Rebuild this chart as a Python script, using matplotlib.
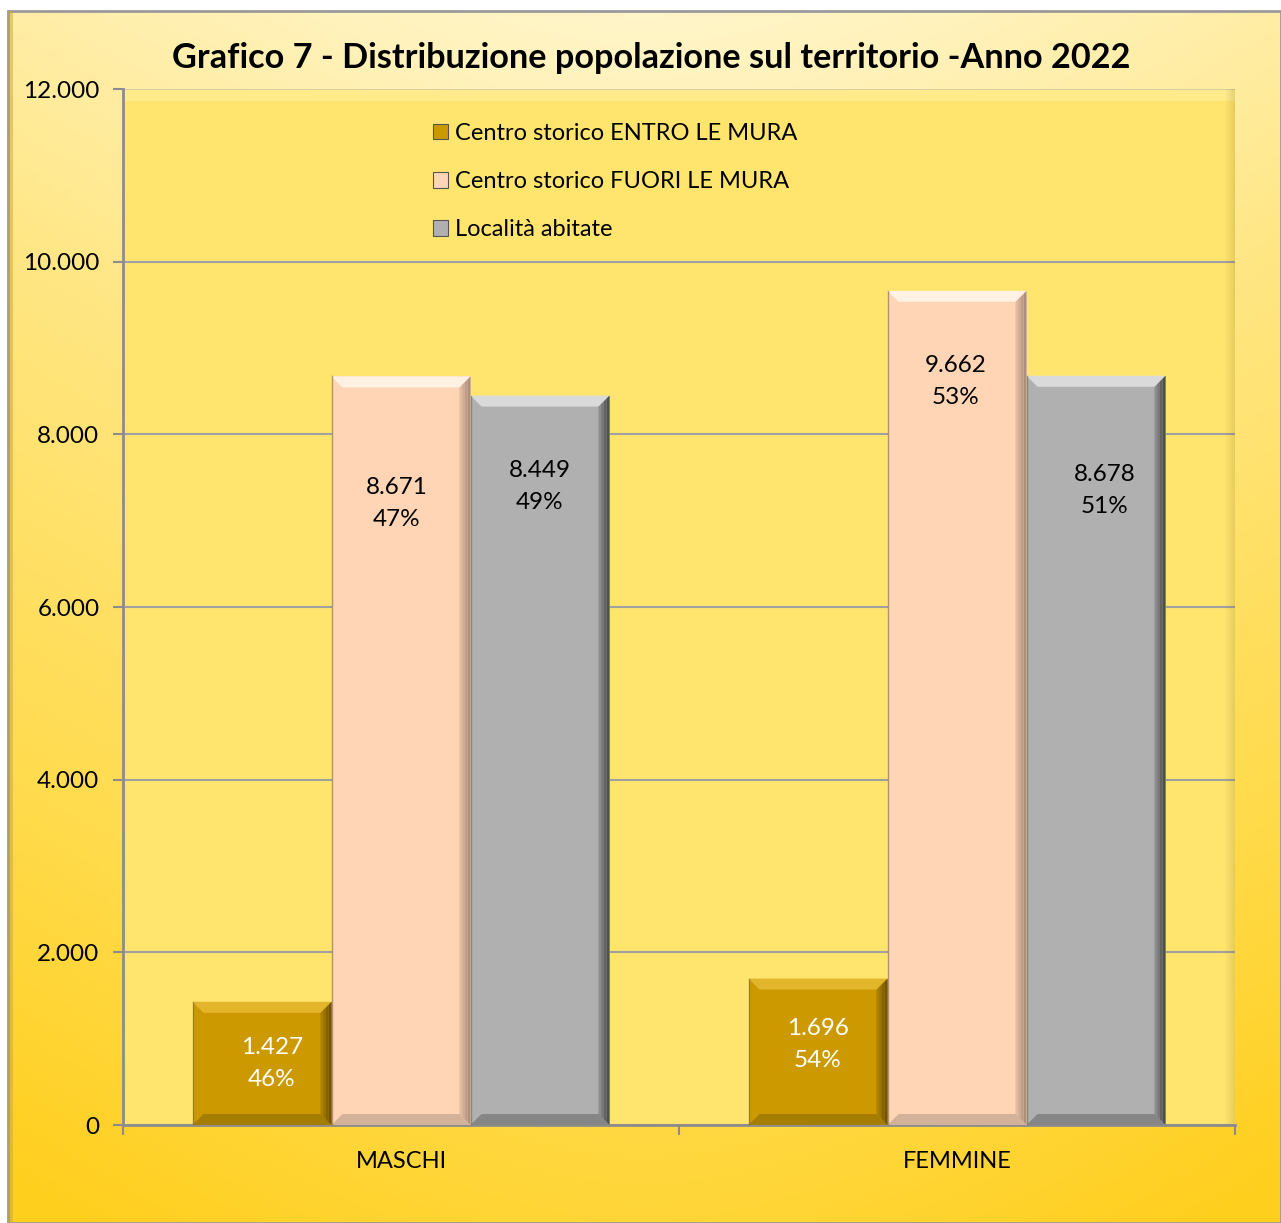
import numpy as np
import matplotlib
matplotlib.use("Agg")
import matplotlib.pyplot as plt
from matplotlib.patches import Polygon, Rectangle, Patch
from matplotlib.colors import LinearSegmentedColormap

# data
categories = ["MASCHI", "FEMMINE"]
series_names = ["Centro storico ENTRO LE MURA",
                "Centro storico FUORI LE MURA",
                "Località abitate"]
entro_mura = [1427, 1696]
fuori_mura = [8671, 9662]
localita = [8449, 8678]
y_ticks = [0, 2000, 4000, 6000, 8000, 10000, 12000]
title = "Grafico 7 - Distribuzione popolazione sul territorio -Anno 2022"

# styles
colors = ["#CC9900", "#FFD5B5", "#B0B0B0"]
text_colors = ["white", "black", "black"]
bevel_top = ["#E2B52A", "#FFF1E4", "#DADADA"]
bevel_side = ["#6E5200", "#A88C7A", "#4A4A4A"]
bevel_bot = ["#8C6B00", "#B89C88", "#6A6A6A"]
# label offsets (pixels below bar top, pixel shift in x) per series per category
label_dy = [[62, 66], [127, 91], [91, 115]]
label_dx = [[10, 0], [-4, -1], [0, 9]]

W, H = 1281, 1223
plt.rcParams['font.family'] = ['Lato', 'DejaVu Sans']
fig = plt.figure(figsize=(W / 100, H / 100), dpi=100, facecolor="white")

# outer gradient panel
bg = fig.add_axes([8 / W, 0, 1 - 8 / W, 1 - 11 / H], zorder=-10)
ny, nx = 300, 300
yy, xx = np.mgrid[0:1:ny * 1j, 0:1:nx * 1j]
cmap = LinearSegmentedColormap.from_list(
    "bgc", [(0.0, "#FFF5C8"), (0.35, "#FFE682"), (0.75, "#FFDA48"), (1.0, "#FFCF1E")])
vals = yy * 0.85 + 0.25 * np.abs(xx - 0.5) ** 1.5 * 2
bg.imshow(np.clip(vals, 0, 1), cmap=cmap, aspect="auto", extent=[0, 1, 1, 0], vmin=0, vmax=1)
bg.set_xlim(0, 1)
bg.set_ylim(1, 0)
bg.axis("off")
bg.add_patch(Rectangle((0, 0), 1, 1, transform=bg.transAxes, fill=False,
                       edgecolor="#9A9A9A", linewidth=2, clip_on=False))
bg.add_patch(Rectangle((0.0, 0.0), 0.004, 1, transform=bg.transAxes,
                       color="#C9A43A", alpha=0.5, linewidth=0))

left, right, top, bottom = 123, 1235, 89, 1125
ax = fig.add_axes([left / W, 1 - bottom / H, (right - left) / W, (bottom - top) / H])
ax.set_facecolor("#FFE56E")

x = np.arange(len(categories))
width = 0.25
all_series = [entro_mura, fuori_mura, localita]
ax.set_xlim(-0.5, len(categories) - 0.5)
ax.set_ylim(0, 12000)

px_x = (ax.get_xlim()[1] - ax.get_xlim()[0]) / (right - left)
px_y = 12000 / (bottom - top)
bev = 11

for i, (vals_s, name) in enumerate(zip(all_series, series_names)):
    pos = x + (i - 1) * width
    bars = ax.bar(pos, vals_s, width, color=colors[i], edgecolor="none", zorder=3, label=name)
    for j, b in enumerate(bars):
        x0, x1 = b.get_x(), b.get_x() + b.get_width()
        y1 = b.get_height()
        dx, dy = bev * px_x, bev * px_y
        ax.add_patch(Polygon([(x0, y1), (x1, y1), (x1 - dx, y1 - dy), (x0 + dx, y1 - dy)],
                             closed=True, color=bevel_top[i], linewidth=0, zorder=4))
        # side shading as a few strips, darker at the edge
        for k in range(4):
            f0, f1 = k / 4, (k + 1) / 4
            ax.add_patch(Polygon([(x1 - dx * f0, y1 - dy * f0), (x1 - dx * f0, dy * f0),
                                  (x1 - dx * f1, dy * f1), (x1 - dx * f1, y1 - dy * f1)],
                                 closed=True, color=bevel_side[i], linewidth=0, zorder=4,
                                 alpha=0.95 - 0.2 * k))
        ax.add_patch(Polygon([(x0, 0), (x1, 0), (x1 - dx, dy), (x0 + dx, dy)],
                             closed=True, color=bevel_bot[i], linewidth=0, zorder=4, alpha=0.6))
        ax.plot([x0, x0], [0, y1], color="#7A6A40", linewidth=1, zorder=5, alpha=0.6)
        total = all_series[i][0] + all_series[i][1]
        pct = round(100 * vals_s[j] / total)
        txt = f"{vals_s[j]:,}".replace(",", ".") + f"\n{pct}%"
        ax.annotate(txt, (b.get_x() + b.get_width() / 2, y1),
                    xytext=(label_dx[i][j], -label_dy[i][j]), textcoords="offset pixels",
                    ha="center", va="center", fontsize=17.5, color=text_colors[i],
                    linespacing=1.65, zorder=6)

# plot-area bevel: light top, dark right
ax.add_patch(Rectangle((0, 1 - 12 / (bottom - top)), 1, 12 / (bottom - top), transform=ax.transAxes,
                       color="#FFF0A0", alpha=0.6, linewidth=0, zorder=1))
for k in range(10):
    ax.add_patch(Rectangle((1 - (k + 1) / (right - left), 0), 1 / (right - left), 1,
                           transform=ax.transAxes, color="#6A5410",
                           alpha=0.08 * (10 - k) / 1.5 / 10 * 3, linewidth=0, zorder=1))

ax.set_yticks(y_ticks)
ax.set_yticklabels([f"{v:,}".replace(",", ".") for v in y_ticks])
ax.yaxis.grid(True, color="#A0A0A0", linewidth=1.5, zorder=0)
ax.set_axisbelow(True)
ax.set_xticks(x)
ax.set_xticklabels(categories)
ax.set_xticks(np.arange(len(categories) + 1) - 0.5, minor=True)
ax.tick_params(axis="x", which="major", length=0, pad=19, labelsize=17)
ax.tick_params(axis="x", which="minor", length=7, color="#8C8C8C", width=1.5)
ax.tick_params(axis="y", length=7, color="#8C8C8C", width=1.5, pad=10, labelsize=17.5)
for s in ["top", "right"]:
    ax.spines[s].set_visible(False)
for s in ["left", "bottom"]:
    ax.spines[s].set_color("#8C8C8C")
    ax.spines[s].set_linewidth(2)

handles = [Patch(facecolor=c, edgecolor="#555555", linewidth=0.8) for c in colors]
leg = ax.legend(handles, series_names, loc="upper left",
                bbox_to_anchor=(421 / W, 1 - 111 / H), bbox_transform=fig.transFigure,
                frameon=False, fontsize=17, handlelength=0.65, handleheight=0.65,
                handletextpad=0.3, labelspacing=1.15, borderpad=0)
leg.set_zorder(7)

fig.text(651 / W, 1 - 58 / H, title, ha="center", va="center",
         fontsize=24.7, fontweight="bold", color="black")

fig.savefig("out.png", dpi=100, facecolor=fig.get_facecolor())
